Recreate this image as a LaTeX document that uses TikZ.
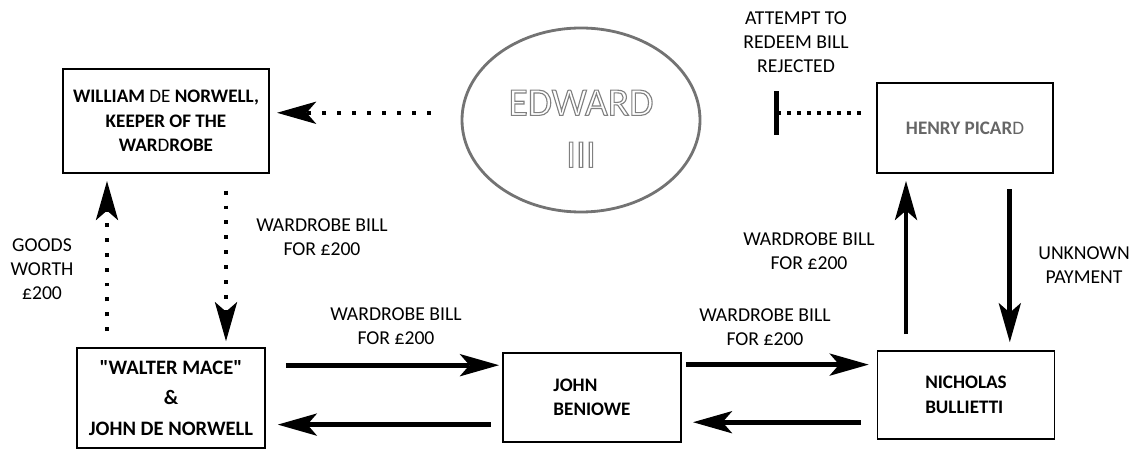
\documentclass[tikz,border=0pt]{standalone}
\usepackage{fontspec}
\setmainfont{Carlito}
\usetikzlibrary{positioning}
\usetikzlibrary{arrows.meta,shapes.geometric}
\usetikzlibrary{calc}
\tikzstyle{party}=[rectangle,draw,line width=1.2pt,inner sep=0pt,align=center,font=\bfseries\fontsize{13.6}{17.5}\selectfont]
\tikzstyle{note}=[align=center,inner sep=0pt,font=\fontsize{14}{17}\selectfont]
\tikzstyle{flow}=[draw,line width=3.5pt,-{Stealth[length=28pt,width=16pt,inset=7pt,line width=0pt]}]
\tikzstyle{dotflow}=[flow,line width=2.8pt,dash pattern=on 2.8pt off 7.8pt]
\tikzstyle{dotline}=[draw,line width=2.8pt,dash pattern=on 2.8pt off 4.3pt]
\tikzstyle{kingtext}=[align=center,inner sep=0pt,text=black!50,font=\fontsize{28}{37}\selectfont]
\newcommand{\hollow}[1]{\special{pdf:literal direct 1 Tr 0.8 w 0.5 0.5 0.5 RG}#1\special{pdf:literal direct 0 Tr}}

\begin{document}
\begin{tikzpicture}
    \useasboundingbox (0,0) rectangle (28.35,11.225);

    % The parties of the bill
    \node[party, minimum width=5.15cm, minimum height=2.6cm] (wbox) at (4.15,8.2) {WILLIAM {\mdseries DE} NORWELL,\\KEEPER OF THE\\WAR{\mdseries D}ROBE};
    \node[party, minimum width=4.7cm, minimum height=2.5cm, font=\bfseries\fontsize{14.6}{22}\selectfont\addfontfeatures{Ligatures=TeXOff}] (mbox) at (4.275,1.275) {"WALTER MACE"\\\&\\JOHN DE NORWELL};
    \node[party, minimum width=4.45cm, minimum height=2.225cm, align=left] (jbox) at (14.8,1.29) {JOHN\\BENIOWE};
    \node[party, minimum width=4.425cm, minimum height=2.2cm, align=left] (nbox) at (24.15,1.35) {NICHOLAS\\BULLIETTI};
    \node[party, minimum width=4.4cm, minimum height=2.25cm, text=black!60] (hbox) at (24.125,8.025) {HENRY PICAR{\mdseries D}};

    % The king
    \node[ellipse, draw=black!55, line width=2pt, minimum width=5.95cm, minimum height=4.6cm, inner sep=0pt] (king) at (14.525,8.225) {};
    \node[kingtext] (kingname) at ([yshift=-0.22cm]king.center) {\hollow{EDWARD}\\\hollow{III}};

    % Dotted connections
    \path[dotflow, shorten <=0.75cm, shorten >=0.18cm] ([yshift=0.18cm]king.west) -- ([yshift=0.18cm]king.west -| wbox.east);
    \path[dotflow, shorten <=0.4cm, shorten >=0.18cm] ([xshift=-1.6cm]mbox.north) -- ([xshift=-1.6cm]mbox.north |- wbox.south);
    \path[dotflow, shorten <=0.42cm, shorten >=0.15cm] ([xshift=1.5cm]wbox.south) -- ([xshift=1.5cm]wbox.south |- mbox.north);

    % The bill passing along, and payment back
    \foreach \source/\dest/\gapa/\gapb in {mbox/jbox/0.5/0.08, jbox/nbox/0.1/0.2}
        \path[flow, shorten <=\gapa cm, shorten >=\gapb cm] ([yshift=0.82cm]\source.east) -- ([yshift=0.82cm]\source.east -| \dest.west);
    \foreach \source/\dest/\gapa/\gapb in {jbox/mbox/0.28/0.3, nbox/jbox/0.4/0.28}
        \path[flow, shorten <=\gapa cm, shorten >=\gapb cm] ([yshift=-0.68cm]\source.west) -- ([yshift=-0.68cm]\source.west -| \dest.east);

    \path[flow, shorten <=0.4cm, shorten >=0.18cm] ([xshift=-1.5cm]nbox.north) -- ([xshift=-1.5cm]nbox.north |- hbox.south);
    \path[flow, shorten <=0.38cm, shorten >=0.2cm] ([xshift=1.12cm]hbox.south) -- ([xshift=1.12cm]hbox.south |- nbox.north);

    % Rejected redemption
    \coordinate (halt) at (19.35,8.4);
    \path[dotline, -{Bar[width=1.1cm,line width=3.5pt]}, shorten <=0.38cm] (hbox.west |- halt) -- (halt);

    % Labels
    \node[note] (goods) at (1.05,4.5) {GOODS\\WORTH\\£200};
    \node[note] (billdown) at (8.05,5.3) {WARDROBE BILL\\FOR £200};
    \node[note] (billmace) at (9.9,3.06) {WARDROBE BILL\\FOR £200};
    \node[note] (billjohn) at (19.125,3.05) {WARDROBE BILL\\FOR £200};
    \node[note] (billup) at (20.225,4.95) {WARDROBE BILL\\FOR £200};
    \node[note] (unknown) at (27.1,4.59) {UNKNOWN\\PAYMENT};
    \node[note] (attempt) at (19.9,10.175) {ATTEMPT TO\\REDEEM BILL\\REJECTED};
\end{tikzpicture}
\end{document}
